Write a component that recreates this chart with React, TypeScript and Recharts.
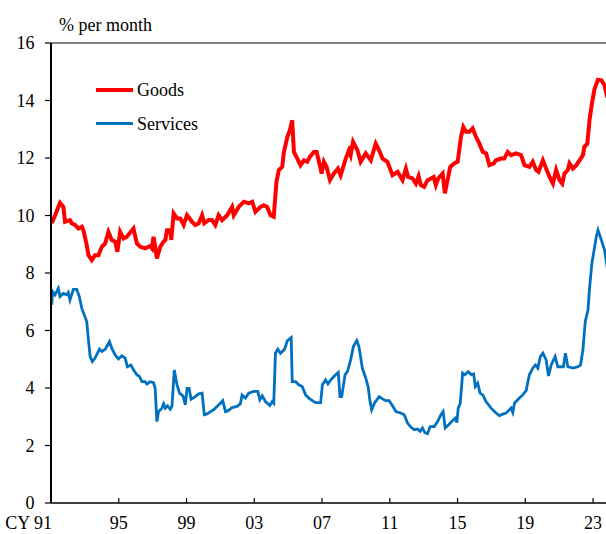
import React from "react";
import { LineChart, Line, XAxis, YAxis, ReferenceLine } from "recharts";

const goodsYears = [
  1991.04, 1991.24, 1991.53, 1991.73, 1991.83, 1992.12, 1992.22, 1992.42, 1992.62, 1992.82,
  1992.91, 1993.11, 1993.21, 1993.41, 1993.6, 1993.8, 1994.0, 1994.2, 1994.39, 1994.59,
  1994.79, 1994.92, 1995.08, 1995.28, 1995.48, 1995.87, 1996.07, 1996.27, 1996.56, 1996.86,
  1996.96, 1997.05, 1997.15, 1997.25, 1997.45, 1997.64, 1997.75, 1997.85, 1998.04, 1998.1,
  1998.24, 1998.44, 1998.63, 1998.83, 1999.03, 1999.33, 1999.52, 1999.72, 1999.92, 2000.05,
  2000.31, 2000.51, 2000.7, 2000.9, 2001.1, 2001.4, 2001.69, 2001.79, 2002.08, 2002.38,
  2002.67, 2002.88, 2003.07, 2003.37, 2003.56, 2003.76, 2003.96, 2004.15, 2004.31, 2004.45,
  2004.65, 2004.75, 2004.95, 2005.1, 2005.24, 2005.34, 2005.54, 2005.73, 2005.93, 2006.13,
  2006.28, 2006.52, 2006.68, 2006.82, 2006.98, 2007.11, 2007.27, 2007.47, 2007.7, 2007.94,
  2008.1, 2008.4, 2008.59, 2008.69, 2008.83, 2009.09, 2009.28, 2009.58, 2009.88, 2010.17,
  2010.37, 2010.57, 2010.86, 2011.16, 2011.46, 2011.75, 2011.95, 2012.08, 2012.34, 2012.54,
  2012.7, 2012.83, 2013.03, 2013.23, 2013.43, 2013.59, 2013.72, 2013.86, 2014.02, 2014.12,
  2014.25, 2014.41, 2014.57, 2014.8, 2015.01, 2015.2, 2015.34, 2015.5, 2015.69, 2015.89,
  2016.09, 2016.29, 2016.49, 2016.69, 2016.88, 2017.14, 2017.27, 2017.57, 2017.76, 2017.96,
  2018.16, 2018.46, 2018.75, 2018.95, 2019.24, 2019.44, 2019.64, 2019.78, 2020.04, 2020.23,
  2020.43, 2020.63, 2020.82, 2021.02, 2021.18, 2021.31, 2021.51, 2021.61, 2021.81, 2022.01,
  2022.2, 2022.4, 2022.49, 2022.66, 2022.79, 2022.93, 2023.09, 2023.29, 2023.49, 2023.68,
  2023.84,
];
const goodsValues = [
  9.73, 10.0, 10.44, 10.3, 9.78, 9.84, 9.73, 9.67, 9.55, 9.61,
  9.49, 8.97, 8.62, 8.45, 8.62, 8.62, 8.91, 9.03, 9.43, 9.15,
  9.09, 8.74, 9.43, 9.2, 9.26, 9.55, 9.03, 8.91, 8.86, 8.94,
  8.86, 9.26, 8.91, 8.51, 8.91, 9.09, 9.15, 9.49, 9.49, 9.15,
  10.07, 9.9, 9.9, 9.67, 10.01, 9.78, 9.67, 9.73, 10.01, 9.73,
  9.84, 9.84, 9.67, 10.01, 9.84, 10.01, 10.3, 10.01, 10.3, 10.48,
  10.42, 10.48, 10.13, 10.3, 10.36, 10.3, 10.01, 9.96, 11.17, 11.58,
  11.69, 12.21, 12.73, 12.97, 13.31, 12.21, 11.98, 11.75, 11.92, 11.87,
  12.04, 12.21, 12.21, 11.87, 11.46, 11.87, 11.69, 11.23, 11.46, 11.63,
  11.4, 11.98, 12.27, 12.1, 12.56, 12.27, 11.87, 12.16, 11.92, 12.5,
  12.27, 11.98, 11.87, 11.4, 11.52, 11.23, 11.63, 11.34, 11.29, 11.11,
  11.37, 11.06, 11.0, 11.23, 11.29, 11.34, 11.06, 11.29, 11.4, 11.46,
  10.77, 11.23, 11.69, 11.81, 11.87, 12.73, 13.08, 12.91, 12.91, 13.03,
  12.73, 12.5, 12.21, 12.16, 11.75, 11.81, 11.92, 11.98, 11.98, 12.21,
  12.1, 12.16, 12.1, 11.75, 11.69, 11.87, 11.58, 11.52, 11.92, 11.63,
  11.34, 11.11, 11.58, 11.23, 11.11, 11.46, 11.58, 11.81, 11.63, 11.75,
  11.92, 12.1, 12.39, 12.5, 13.31, 13.89, 14.41, 14.72, 14.7, 14.53,
  14.1,
];

const servicesYears = [
  1991.04, 1991.1, 1991.24, 1991.43, 1991.53, 1991.73, 1991.93, 1992.02, 1992.12, 1992.32,
  1992.52, 1992.67, 1992.82, 1993.11, 1993.21, 1993.31, 1993.44, 1993.6, 1993.86, 1994.0,
  1994.2, 1994.45, 1994.59, 1994.79, 1994.98, 1995.18, 1995.38, 1995.51, 1995.72, 1995.87,
  1996.07, 1996.22, 1996.37, 1996.56, 1996.66, 1996.86, 1997.05, 1997.15, 1997.25, 1997.35,
  1997.55, 1997.65, 1997.75, 1997.88, 1998.04, 1998.14, 1998.28, 1998.44, 1998.59, 1998.79,
  1998.93, 1999.03, 1999.15, 1999.27, 1999.52, 1999.72, 1999.92, 2000.05, 2000.21, 2000.41,
  2000.6, 2000.8, 2001.0, 2001.14, 2001.3, 2001.49, 2001.69, 2001.99, 2002.18, 2002.28,
  2002.48, 2002.67, 2002.97, 2003.21, 2003.33, 2003.47, 2003.66, 2003.92, 2004.06, 2004.15,
  2004.25, 2004.39, 2004.55, 2004.79, 2004.95, 2005.18, 2005.24, 2005.44, 2005.63, 2005.83,
  2006.03, 2006.22, 2006.43, 2006.62, 2006.92, 2007.02, 2007.21, 2007.35, 2007.51, 2007.8,
  2007.96, 2008.06, 2008.16, 2008.36, 2008.5, 2008.69, 2008.85, 2009.05, 2009.18, 2009.38,
  2009.58, 2009.72, 2009.82, 2009.93, 2010.11, 2010.37, 2010.57, 2010.76, 2010.96, 2011.16,
  2011.36, 2011.65, 2011.85, 2012.05, 2012.24, 2012.44, 2012.64, 2012.79, 2012.93, 2013.07,
  2013.23, 2013.38, 2013.62, 2013.82, 2014.02, 2014.15, 2014.27, 2014.47, 2014.65, 2014.85,
  2014.96, 2015.04, 2015.16, 2015.3, 2015.44, 2015.63, 2015.83, 2015.95, 2016.05, 2016.19,
  2016.33, 2016.49, 2016.68, 2016.98, 2017.27, 2017.47, 2017.67, 2017.86, 2018.06, 2018.16,
  2018.26, 2018.36, 2018.65, 2018.85, 2019.05, 2019.24, 2019.44, 2019.6, 2019.74, 2019.89,
  2020.04, 2020.23, 2020.37, 2020.53, 2020.76, 2020.92, 2021.12, 2021.25, 2021.37, 2021.51,
  2021.81, 2022.11, 2022.26, 2022.4, 2022.54, 2022.7, 2022.79, 2022.93, 2023.09, 2023.19,
  2023.29, 2023.49, 2023.68, 2023.84,
];
const servicesValues = [
  6.89, 7.35, 7.24, 7.47, 7.18, 7.29, 7.24, 7.32, 7.06, 7.43,
  7.43, 7.18, 6.77, 6.31, 5.67, 5.09, 4.92, 5.04, 5.35, 5.27,
  5.35, 5.61, 5.38, 5.15, 5.01, 5.12, 5.04, 4.74, 4.8, 4.63,
  4.46, 4.4, 4.22, 4.22, 4.14, 4.22, 4.19, 3.99, 2.83, 3.18,
  3.3, 3.45, 3.3, 3.38, 3.26, 3.36, 4.63, 4.11, 3.82, 3.73,
  3.41, 3.99, 3.99, 3.61, 3.7, 3.8, 3.82, 3.07, 3.1, 3.18,
  3.24, 3.36, 3.47, 3.56, 3.18, 3.22, 3.32, 3.36, 3.45, 3.76,
  3.65, 3.82, 3.88, 3.88, 3.59, 3.73, 3.53, 3.39, 3.53, 3.47,
  5.21, 5.35, 5.21, 5.35, 5.64, 5.75, 4.22, 4.22, 4.11, 4.05,
  3.76, 3.65, 3.56, 3.49, 3.49, 4.11, 4.28, 4.14, 4.28, 4.46,
  4.54, 3.7, 3.7, 4.46, 4.57, 4.98, 5.44, 5.65, 5.44, 4.69,
  4.34, 4.05, 3.59, 3.24, 3.49, 3.7, 3.62, 3.56, 3.56, 3.38,
  3.18, 3.13, 3.07, 2.78, 2.64, 2.55, 2.57, 2.49, 2.61, 2.45,
  2.41, 2.66, 2.66, 2.83, 3.07, 3.18, 2.61, 2.72, 2.83, 2.95,
  2.8, 3.3, 3.47, 4.52, 4.46, 4.57, 4.46, 4.49, 4.05, 4.17,
  3.82, 3.76, 3.53, 3.3, 3.13, 3.04, 3.09, 3.13, 3.24, 3.3,
  3.15, 3.47, 3.65, 3.76, 3.91, 4.46, 4.69, 4.8, 4.69, 5.09,
  5.21, 4.98, 4.42, 4.8, 5.09, 4.74, 4.74, 4.74, 5.21, 4.74,
  4.69, 4.74, 4.8, 5.32, 6.31, 6.71, 7.45, 8.34, 8.9, 9.26,
  9.49, 9.15, 8.8, 8.16,
];

const xTicks = [1991, 1995, 1999, 2003, 2007, 2011, 2015, 2019, 2023];
const xTickLabels = ["CY 91", "95", "99", "03", "07", "11", "15", "19", "23"];
const yTicks = [0, 2, 4, 6, 8, 10, 12, 14, 16];
const seriesNames = ["Goods", "Services"];
const unitLabel = "% per month";

const GOODS_COLOR = "#FF0000";
const SERVICES_COLOR = "#0070C0";
const FONT = "'Liberation Serif', 'Times New Roman', serif";

const goodsData = goodsYears.map((t, i) => ({ t, v: goodsValues[i] }));
const servicesData = servicesYears.map((t, i) => ({ t, v: servicesValues[i] }));

const XTick = (props: any) => {
  const { x, y, payload, index } = props;
  const label = xTickLabels[xTicks.indexOf(payload.value)] ?? String(payload.value);
  const first = index === 0;
  return (
    <g>
      <line x1={x} x2={x} y1={y - 5} y2={y} stroke="#000" strokeWidth={1.2} />
      <text
        x={first ? x + 1 : x}
        y={y + 26}
        textAnchor={first ? "end" : "middle"}
        fontSize={18}
        fontFamily={FONT}
        fill="#000"
      >
        {label}
      </text>
    </g>
  );
};

const LegendBox = () => {
  const colors = [GOODS_COLOR, SERVICES_COLOR];
  const widths = [4, 3];
  return (
    <div
      style={{
        position: "absolute",
        left: 96,
        top: 80,
        fontFamily: FONT,
        fontSize: 18,
        color: "#000",
        zIndex: 2,
      }}
    >
      {seriesNames.map((n, i) => (
        <div
          key={n}
          style={{
            display: "flex",
            alignItems: "center",
            height: 20,
            lineHeight: "20px",
            marginBottom: i === 0 ? 13.5 : 0,
            whiteSpace: "nowrap",
          }}
        >
          <div style={{ width: 37, height: widths[i], background: colors[i], marginRight: 4 }} />
          <span>{n}</span>
        </div>
      ))}
    </div>
  );
};

export default function App() {
  return (
    <div
      style={{
        position: "fixed",
        left: 0,
        top: 0,
        width: 606,
        height: 534,
        overflow: "hidden",
        background: "#fff",
        fontFamily: FONT,
      }}
    >
      <div
        style={{
          position: "absolute",
          left: 59,
          top: 15,
          fontSize: 18,
          lineHeight: "20px",
          color: "#000",
          whiteSpace: "nowrap",
          zIndex: 2,
        }}
      >
        {unitLabel}
      </div>
      <LegendBox />
      <LineChart
        width={630}
        height={534}
        margin={{ top: 43, right: 20, bottom: 0, left: 0 }}
        style={{ fontFamily: FONT }}
      >
        <XAxis
          dataKey="t"
          type="number"
          domain={[1991, 2024]}
          ticks={xTicks}
          allowDataOverflow
          height={31}
          tickSize={0}
          tickMargin={0}
          tickLine={false}
          axisLine={{ stroke: "#000", strokeWidth: 1.5 }}
          tick={<XTick />}
          interval={0}
        />
        <YAxis
          type="number"
          domain={[0, 16]}
          ticks={yTicks}
          width={51}
          tickSize={6}
          tickMargin={10.5}
          tickLine={{ stroke: "#000", strokeWidth: 1.2 }}
          axisLine={{ stroke: "#000", strokeWidth: 2 }}
          tick={{ fontSize: 18, fill: "#000", fontFamily: FONT }}
          interval={0}
        />
        <ReferenceLine y={16} stroke="#000" strokeWidth={1} />
        <Line
          data={goodsData}
          dataKey="v"
          name={seriesNames[0]}
          type="linear"
          stroke={GOODS_COLOR}
          strokeWidth={4}
          dot={false}
          isAnimationActive={false}
        />
        <Line
          data={servicesData}
          dataKey="v"
          name={seriesNames[1]}
          type="linear"
          stroke={SERVICES_COLOR}
          strokeWidth={2.8}
          dot={false}
          isAnimationActive={false}
        />
      </LineChart>
    </div>
  );
}
